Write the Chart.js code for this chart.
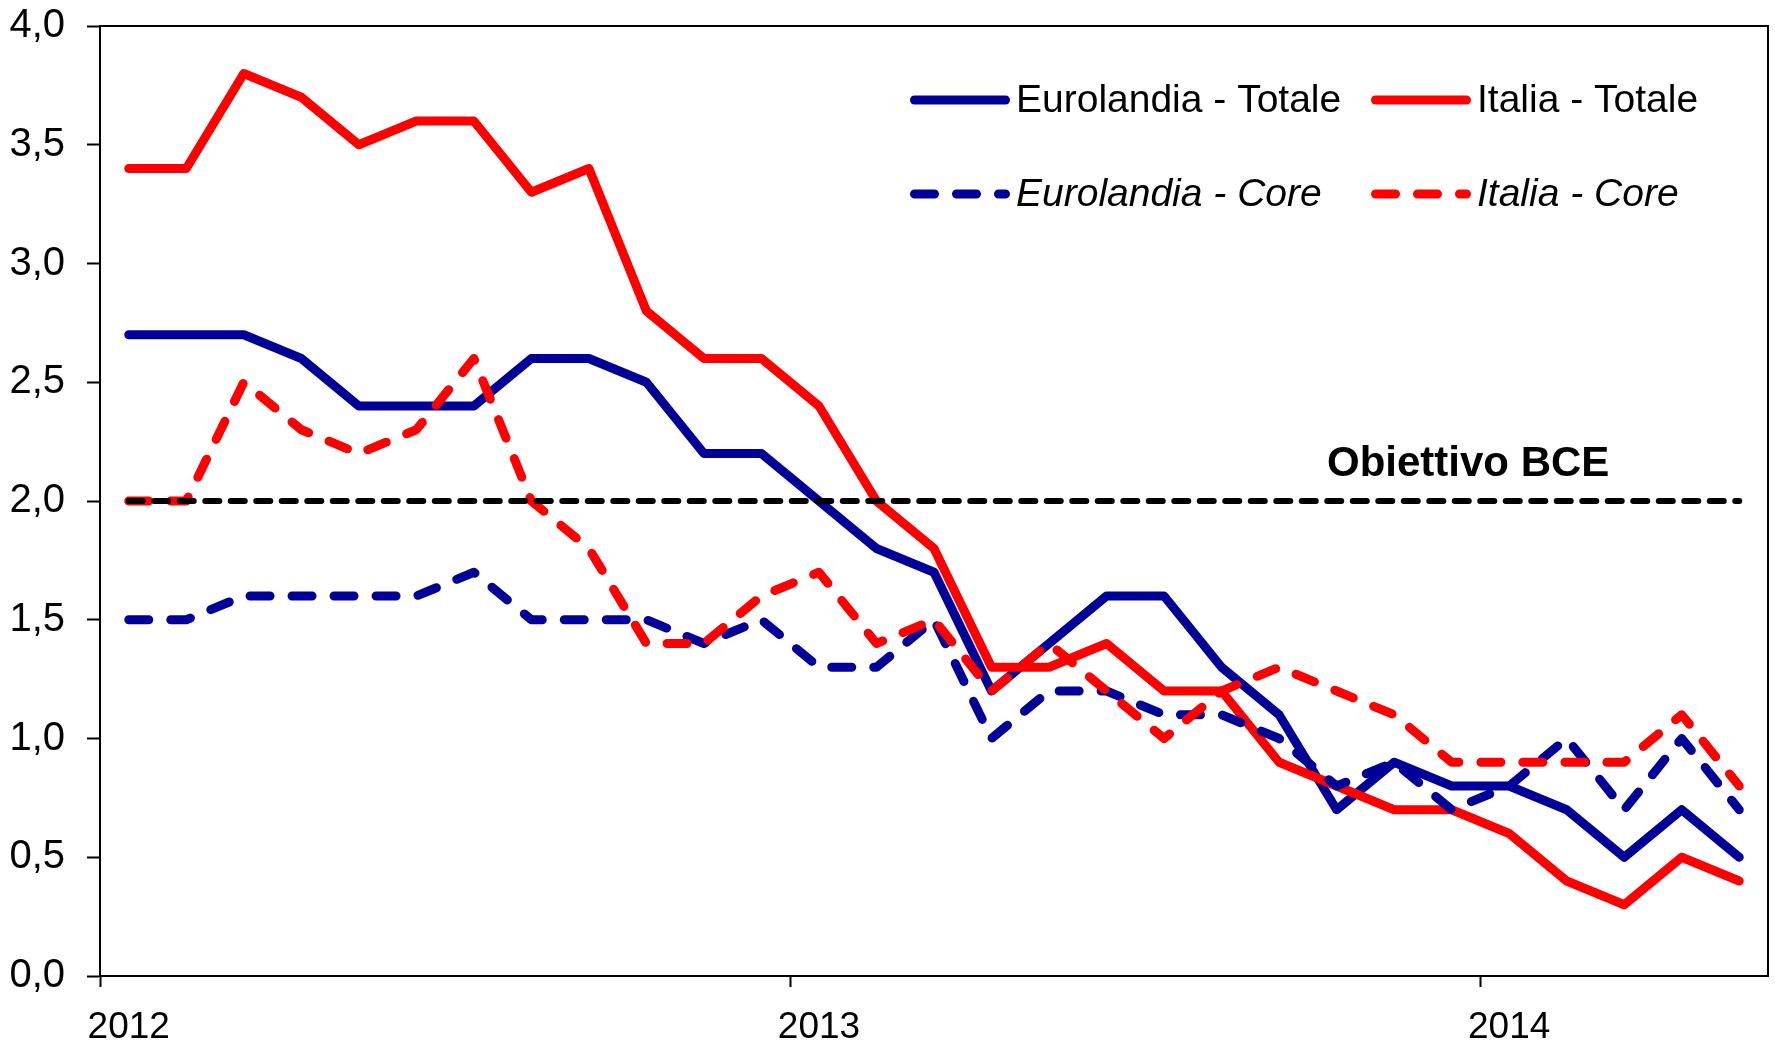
<!DOCTYPE html>
<html>
<head>
<meta charset="utf-8">
<script src="https://cdn.jsdelivr.net/npm/chart.js@4.4.1/dist/chart.umd.min.js"></script>
<style>
  html, body { margin: 0; padding: 0; background: #ffffff; }
  canvas { display: block; }
</style>
</head>
<body>
<canvas id="chart" width="1775" height="1044"></canvas>
<script>
// Monthly observations, January 2012 – May 2014
const months = [
  '2012-01','2012-02','2012-03','2012-04','2012-05','2012-06',
  '2012-07','2012-08','2012-09','2012-10','2012-11','2012-12',
  '2013-01','2013-02','2013-03','2013-04','2013-05','2013-06',
  '2013-07','2013-08','2013-09','2013-10','2013-11','2013-12',
  '2014-01','2014-02','2014-03','2014-04','2014-05'
];

// Inflation rates, % year on year
const eurolandiaTotale = [2.7, 2.7, 2.7, 2.6, 2.4, 2.4, 2.4, 2.6, 2.6, 2.5, 2.2, 2.2,
                          2.0, 1.8, 1.7, 1.2, 1.4, 1.6, 1.6, 1.3, 1.1, 0.7, 0.9, 0.8,
                          0.8, 0.7, 0.5, 0.7, 0.5];
const italiaTotale     = [3.4, 3.4, 3.8, 3.7, 3.5, 3.6, 3.6, 3.3, 3.4, 2.8, 2.6, 2.6,
                          2.4, 2.0, 1.8, 1.3, 1.3, 1.4, 1.2, 1.2, 0.9, 0.8, 0.7, 0.7,
                          0.6, 0.4, 0.3, 0.5, 0.4];
const eurolandiaCore   = [1.5, 1.5, 1.6, 1.6, 1.6, 1.6, 1.7, 1.5, 1.5, 1.5, 1.4, 1.5,
                          1.3, 1.3, 1.5, 1.0, 1.2, 1.2, 1.1, 1.1, 1.0, 0.8, 0.9, 0.7,
                          0.8, 1.0, 0.7, 1.0, 0.7];
const italiaCore       = [2.0, 2.0, 2.5, 2.3, 2.2, 2.3, 2.6, 2.0, 1.8, 1.4, 1.4, 1.6,
                          1.7, 1.4, 1.5, 1.2, 1.4, 1.2, 1.0, 1.2, 1.3, 1.2, 1.1, 0.9,
                          0.9, 0.9, 0.9, 1.1, 0.8];
const obiettivoBce = 2.0;

// Series names
const seriesNames = ['Eurolandia - Totale', 'Italia - Totale', 'Eurolandia - Core', 'Italia - Core'];
const targetName = 'Obiettivo BCE';

const FONT = "'Liberation Sans', Arial, Helvetica, sans-serif";
const BLUE = '#000099';
const RED = '#FF0000';
const DASH = [20, 22];

// Frame, target label and in-plot legend
const notesPlugin = {
  id: 'notes',
  afterDatasetsDraw(chart, args, opts) {
    const { ctx, chartArea: a } = chart;
    ctx.save();
    ctx.strokeStyle = '#000';
    ctx.lineWidth = 2;
    ctx.setLineDash([]);
    ctx.beginPath();
    ctx.moveTo(a.left - 1, a.top);
    ctx.lineTo(a.right, a.top);
    ctx.lineTo(a.right, a.bottom);
    ctx.stroke();

    // target label above the 2% line
    const yTarget = chart.scales.y.getPixelForValue(obiettivoBce);
    ctx.fillStyle = '#000';
    ctx.textAlign = 'left';
    ctx.textBaseline = 'middle';
    ctx.font = `bold 42px ${FONT}`;
    ctx.fillText(targetName, opts.targetLabelX, yTarget - opts.targetLabelRise);

    // legend
    opts.legend.forEach(item => {
      const ds = chart.data.datasets[item.index];
      const w = ds.borderWidth;
      ctx.setLineDash(ds.borderDash || []);
      ctx.lineCap = 'round';
      ctx.lineWidth = w;
      ctx.strokeStyle = ds.borderColor;
      ctx.beginPath();
      ctx.moveTo(item.x + w / 2, item.y);
      ctx.lineTo(item.x + opts.sampleLength - w / 2, item.y);
      ctx.stroke();
      ctx.setLineDash([]);
      ctx.fillStyle = '#000';
      ctx.font = `${item.style} 39px ${FONT}`;
      ctx.fillText(ds.label, item.x + opts.sampleLength + opts.textGap, item.y + 1);
    });
    ctx.restore();
  }
};

const lineBase = {
  fill: false,
  tension: 0,
  pointRadius: 0,
  pointHoverRadius: 0,
  borderWidth: 9,
  borderJoinStyle: 'round',
  borderCapStyle: 'round'
};

// keep the plot frame exactly where the axis boxes put it
const noLabelOverflow = s => {
  s.paddingTop = 0; s.paddingBottom = 0; s.paddingLeft = 0; s.paddingRight = 0;
};

new Chart(document.getElementById('chart'), {
  type: 'line',
  data: {
    labels: months,
    datasets: [
      { ...lineBase, label: seriesNames[0], data: eurolandiaTotale, borderColor: BLUE, order: 4 },
      { ...lineBase, label: seriesNames[1], data: italiaTotale, borderColor: RED, order: 3 },
      { ...lineBase, label: seriesNames[2], data: eurolandiaCore, borderColor: BLUE, borderDash: DASH, order: 2 },
      { ...lineBase, label: seriesNames[3], data: italiaCore, borderColor: RED, borderDash: DASH, order: 1 },
      { ...lineBase, label: targetName, data: months.map(() => obiettivoBce), borderColor: '#000',
        borderWidth: 6, borderDash: [14, 11.5], order: 0 }
    ]
  },
  options: {
    responsive: false,
    animation: false,
    devicePixelRatio: 1,
    layout: { padding: { left: 0, top: 26, right: 7, bottom: 0 } },
    plugins: {
      legend: { display: false },
      tooltip: { enabled: false },
      notes: {
        targetLabelX: 1327,
        targetLabelRise: 37,
        sampleLength: 100,
        textGap: 6,
        legend: [
          { index: 0, x: 910, y: 100, style: 'normal' },
          { index: 1, x: 1371, y: 100, style: 'normal' },
          { index: 2, x: 910, y: 194, style: 'italic' },
          { index: 3, x: 1371, y: 194, style: 'italic' }
        ]
      }
    },
    scales: {
      x: {
        type: 'category',
        offset: true,
        ticks: {
          autoSkip: false,
          maxRotation: 0,
          minRotation: 0,
          color: '#000',
          padding: 19,
          font: { family: FONT, size: 37 },
          callback: (v, i) => months[i].endsWith('-01') ? months[i].slice(0, 4) : ''
        },
        grid: {
          offset: true,
          drawOnChartArea: false,
          drawTicks: true,
          tickLength: 11,
          tickWidth: 2,
          tickColor: c => (c.tick && c.tick.label) ? '#000' : 'rgba(0,0,0,0)'
        },
        border: { display: true, color: '#000', width: 2 },
        afterFit: s => { s.height = 68; noLabelOverflow(s); }
      },
      y: {
        min: 0,
        max: 4,
        ticks: {
          stepSize: 0.5,
          color: '#000',
          padding: 22,
          font: { family: FONT, size: 40 },
          callback: v => v.toFixed(1).replace('.', ',')
        },
        grid: {
          drawOnChartArea: false,
          drawTicks: true,
          tickLength: 13,
          tickWidth: 2,
          tickColor: '#000'
        },
        border: { display: true, color: '#000', width: 2 },
        afterFit: s => { s.width = 100; noLabelOverflow(s); }
      }
    }
  },
  plugins: [notesPlugin]
});
</script>
</body>
</html>
